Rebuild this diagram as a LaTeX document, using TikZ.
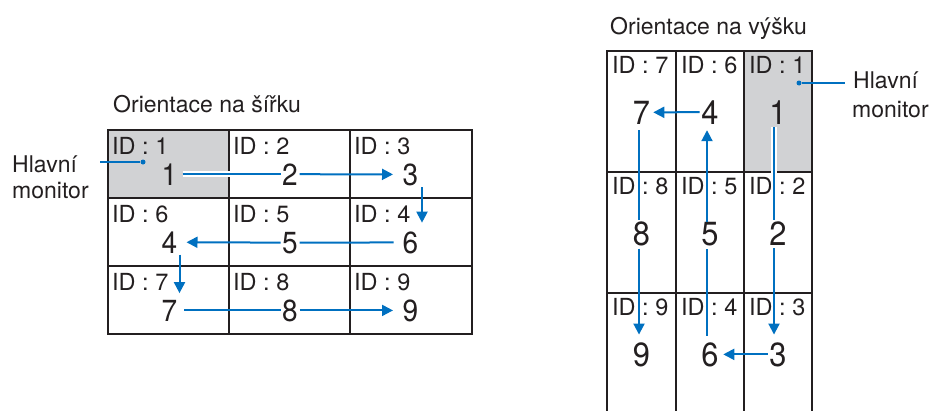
\documentclass[tikz,border=0pt]{standalone}
\usepackage{fontspec}
\setmainfont{TeX Gyre Heros}
\newfontfamily\condfont[FakeStretch=0.92]{TeX Gyre Heros}
\usetikzlibrary{arrows.meta,calc}
\definecolor{arrblue}{RGB}{0,112,192}
\definecolor{cellgray}{RGB}{209,210,212}
\definecolor{gridblack}{RGB}{35,31,32}
\begin{document}
\begin{tikzpicture}[x=1pt,y=-1pt,
  gridline/.style={draw=gridblack, line width=2.5pt},
  num/.style={font=\condfont\fontsize{30.5}{30.5}\selectfont, inner sep=1.5pt, anchor=base, text=gridblack},
  pnum/.style={num, font=\condfont\fontsize{33.5}{33.5}\selectfont},
  idlbl/.style={font=\fontsize{23.5}{23.5}\selectfont, inner sep=0pt, anchor=base west, text=gridblack},
  ttl/.style={font=\fontsize{23}{23}\selectfont, inner sep=0pt, anchor=base west, text=gridblack},
  arr/.style={draw=arrblue, line width=2pt},
  arrtip/.style={arr, -{Triangle[length=11pt,width=11pt]}},
  casing/.style={preaction={draw=white, line width=6pt}},
  leader/.style={draw=arrblue, line width=1.2pt},
  mdot/.style={circle, fill=arrblue, inner sep=0pt, minimum size=5pt}]
\useasboundingbox (0,0) rectangle (933,410);

% ---------- landscape grid ----------
\fill[cellgray] (108,130) rectangle (229,198);
\draw[gridline] (108,130) rectangle (472,334);
\draw[gridline] (229,130) -- (229,334) (350,130) -- (350,334)
                (108,198) -- (472,198) (108,266) -- (472,266);

\node[ttl] (lt) at (113,112) {Orientace na šířku};

\node[idlbl] (li1) at (112,154) {ID : 1};
\node[idlbl] (li2) at (233,154) {ID : 2};
\node[idlbl] (li3) at (354,154) {ID : 3};
\node[idlbl] (li6) at (112,222) {ID : 6};
\node[idlbl] (li5) at (233,222) {ID : 5};
\node[idlbl] (li4) at (354,222) {ID : 4};
\node[idlbl] (li7) at (112,290) {ID : 7};
\node[idlbl] (li8) at (233,290) {ID : 8};
\node[idlbl] (li9) at (354,290) {ID : 9};

\node[num] (L1) at (169.5,185) {1};
\node[num] (L2) at (290,185) {2};
\node[num] (L3) at (410.5,185) {3};
\node[num] (L4) at (169.5,253) {4};
\node[num] (L5) at (290,253) {5};
\node[num] (L6) at (410.5,253) {6};
\node[num] (L7) at (169.5,321) {7};
\node[num] (L8) at (290,321) {8};
\node[num] (L9) at (410.5,321) {9};

\draw[arr, casing, shorten <=3.5pt] (L1) -- (L2);
\draw[arrtip, shorten >=8pt] (L2) -- (L3);
\draw[arrtip, shorten >=7pt] ([xshift=11.5pt]L3.south) -- ([xshift=11.5pt]L6.north);
\draw[arr, shorten <=7.5pt] (L6) -- (L5);
\draw[arrtip, shorten >=7.5pt] (L5) -- (L4);
\draw[arrtip, shorten >=5pt] ([xshift=10pt]L4.south) -- ([xshift=10pt]L7.north);
\draw[arr, shorten <=5pt] (L7) -- (L8);
\draw[arrtip, shorten >=8pt] (L8) -- (L9);

\node[ttl] (lh1) at (12,172) {Hlavní};
\node[ttl] (lh2) at (12,198) {monitor};
\node[mdot] (ld) at (143,162) {};
\coordinate (lc) at (100,162);
\draw[leader] (lc) -- (ld);

% ---------- portrait grid ----------
\fill[cellgray] (744,51) rectangle (812,172);
\draw[gridline] (607,411) -- (607,51) -- (812,51) -- (812,411);
\draw[gridline] (676,51) -- (676,411) (744,51) -- (744,411)
                (607,172) -- (812,172) (607,293) -- (812,293);

\node[ttl] (pt) at (610,34) {Orientace na výšku};

\node[idlbl] (pi7) at (612,73) {ID : 7};
\node[idlbl] (pi6) at (681,73) {ID : 6};
\node[idlbl] (pi1) at (749,73) {ID : 1};
\node[idlbl] (pi8) at (612,194) {ID : 8};
\node[idlbl] (pi5) at (681,194) {ID : 5};
\node[idlbl] (pi2) at (749,194) {ID : 2};
\node[idlbl] (pi9) at (612,315) {ID : 9};
\node[idlbl] (pi4) at (681,315) {ID : 4};
\node[idlbl] (pi3) at (749,315) {ID : 3};

\node[pnum] (P7) at (641.5,124) {7};
\node[pnum] (P4) at (710,124) {4};
\node[pnum] (P1) at (778,124) {1};
\node[pnum] (P8) at (641.5,245) {8};
\node[pnum] (P5) at (710,245) {5};
\node[pnum] (P2) at (778,245) {2};
\node[pnum] (P9) at (641.5,366) {9};
\node[pnum] (P6) at (710,366) {6};
\node[pnum] (P3) at (778,366) {3};

\draw[arr, casing, shorten <=1.5pt] ([xshift=-4pt]P1.south) -- ([xshift=-4pt]P2.north);
\draw[arrtip, shorten <=1.5pt, shorten >=6pt] ([xshift=-4pt]P2.south) -- ([xshift=-4pt]P3.north);
\draw[arrtip, shorten >=3pt] (P3) -- (P6);
\draw[arr, shorten <=5pt, shorten >=1.5pt] ([xshift=-3pt]P6.north) -- ([xshift=-3pt]P5.south);
\draw[arrtip, shorten <=-2pt, shorten >=4.5pt] ([xshift=-3pt]P5.north) -- ([xshift=-3pt]P4.south);
\draw[arrtip, shorten >=1.5pt] (P4) -- (P7);
\draw[arr, shorten <=4.5pt] ([xshift=-2.5pt]P7.south) -- ([xshift=-2.5pt]P8.north);
\draw[arrtip, shorten <=1.5pt, shorten >=6pt] ([xshift=-2.5pt]P8.south) -- ([xshift=-2.5pt]P9.north);

\node[ttl] (ph1) at (853,88) {Hlavní};
\node[ttl] (ph2) at (852,117) {monitor};
\node[mdot] (pd) at (799,83) {};
\coordinate (pc) at (845,83);
\draw[leader] (pd) -- (pc);
\end{tikzpicture}
\end{document}
